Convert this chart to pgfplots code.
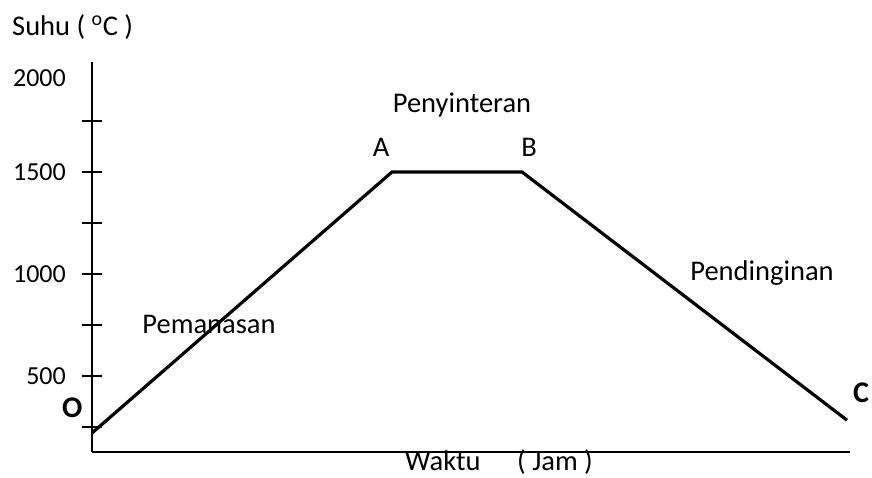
\documentclass[border=0pt]{standalone}
\usepackage{fontspec}
\setmainfont{Carlito}
\usepackage{pgfplots}
\pgfplotsset{compat=1.18}

\begin{document}
\begin{tikzpicture}
  \useasboundingbox (0pt,0pt) rectangle (872pt,-477pt);
  \begin{axis}[
    at={(92pt,-452pt)}, anchor=south west,
    scale only axis,
    width=758pt, height=390pt,
    xmin=0, xmax=758, ymin=128, ymax=2039,
    axis x line=bottom, axis y line=left,
    axis line style={line width=2pt,-},
    xtick=\empty,
    ytick={250,500,750,1000,1250,1500,1750},
    yticklabels={,500,,1000,,1500,},
    extra y ticks={1960},
    extra y tick labels={2000},
    extra y tick style={tick style={draw=none}},
    tick align=center,
    major tick length=20pt,
    tick style={line width=2pt,black},
    /pgf/number format/assume math mode=true,
    yticklabel style={font=\fontsize{26}{30}\selectfont, inner sep=0pt, xshift=-16pt},
    clip=false,
  ]
    \addplot[line width=3.2pt, black] coordinates {
      (0,221)
      (300,1500)
      (430,1500)
      (755,284)
    };
  \end{axis}
  \begin{scope}[every node/.style={inner sep=0pt, font=\fontsize{28.5}{34}\selectfont}]
    \node[anchor=base west] at (12pt,-35pt) {Suhu ( \textsuperscript{o}C )};
    \node[anchor=base] at (462pt,-112pt) {Penyinteran};
    \node[anchor=base] at (381pt,-156pt) {A};
    \node[anchor=base] at (529pt,-156pt) {B};
    \node[anchor=base] at (209pt,-333pt) {Pemanasan};
    \node[anchor=base] at (762pt,-280pt) {Pendinginan};
    \node[anchor=base west] at (405pt,-470pt) {Waktu};
    \node[anchor=base west] at (517pt,-470pt) {( Jam )};
    \node[anchor=base west, font=\fontsize{30}{36}\selectfont\bfseries] at (62pt,-417pt) {O};
    \node[anchor=base west, font=\fontsize{30}{36}\selectfont\bfseries] at (853pt,-402pt) {C};
  \end{scope}
\end{tikzpicture}
\end{document}
